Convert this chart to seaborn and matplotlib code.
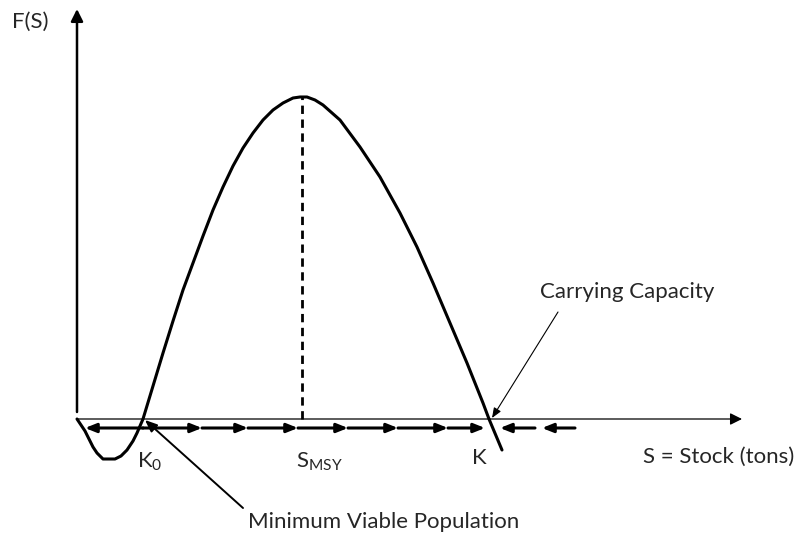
import matplotlib
matplotlib.use("Agg")
import matplotlib.pyplot as plt
import seaborn as sns
import pandas as pd

# growth curve F(S) (arbitrary units)
stock = [0, 4, 8, 12, 16, 20, 26, 38, 44, 50, 56, 60, 66,
         76, 86, 96, 106, 116, 126, 136, 146, 156, 166, 176, 186, 196, 206,
         216, 223, 230, 238, 246, 263, 283, 303, 323, 340, 356, 373, 390,
         406, 412, 425]
growth = [0, -6, -12, -20, -28, -34, -40, -40, -37, -31, -22, -14, 0,
          33, 66, 98, 129, 156, 183, 209, 232, 253, 271, 286, 299, 309, 316,
          321, 322, 322, 319, 314, 299, 272, 242, 206, 172, 136, 96, 56,
          16, 0, -31]

k0 = 66
s_msy = 223
k = 412
f_max = 322

# direction of stock change along the axis
right_arrows = [(66, 125), (125, 171), (171, 221), (221, 271), (271, 321),
                (321, 371), (371, 408)]
left_arrows = [(66, 8), (458, 423), (498, 465)]

df = pd.DataFrame({"stock": stock, "growth": growth})

sns.set_theme(style="white")
plt.rcParams["font.family"] = ["Lato", "DejaVu Sans"]
plt.rcParams["mathtext.fontset"] = "custom"
plt.rcParams["mathtext.rm"] = "Lato"

fig = plt.figure(figsize=(8.02, 5.39), dpi=100)
ax = fig.add_axes([0, 0, 1, 1])
ax.set_xlim(-77, 725)
ax.set_ylim(-120, 419)
ax.axis("off")

sns.lineplot(data=df, x="stock", y="growth", sort=False, color="black",
             linewidth=2.2, ax=ax, solid_joinstyle="round")

# axes with arrows
ax.annotate("", xy=(0, 410), xytext=(0, 7),
            arrowprops=dict(arrowstyle="-|>,head_length=0.6,head_width=0.3",
                            color="black", lw=1.8, shrinkA=0, shrinkB=0))
ax.annotate("", xy=(665, 0), xytext=(0, 0),
            arrowprops=dict(arrowstyle="-|>,head_length=0.6,head_width=0.3",
                            color="black", lw=0.9, shrinkA=0, shrinkB=0))

# MSY dashed line
ax.plot([s_msy + 2, s_msy + 2], [0, f_max], color="black", lw=2,
        linestyle=(0, (3, 2)))

for a, b in right_arrows + left_arrows:
    ax.annotate("", xy=(b, -9), xytext=(a, -9),
                arrowprops=dict(arrowstyle="-|>,head_length=0.55,head_width=0.22",
                                color="black", lw=2.2, shrinkA=0, shrinkB=0))

# pointers
ax.annotate("", xy=(k0 + 2, -1), xytext=(166, -89),
            arrowprops=dict(arrowstyle="-|>,head_length=0.6,head_width=0.25",
                            color="black", lw=1.4, shrinkA=0, shrinkB=0))
ax.annotate("", xy=(k + 3, 1), xytext=(481, 107),
            arrowprops=dict(arrowstyle="-|>,head_length=0.5,head_width=0.2",
                            color="black", lw=0.8, shrinkA=0, shrinkB=0))

fs = 16
ax.text(-65, 397, "F(S)", fontsize=fs, va="center", ha="left")
ax.text(463, 127, "Carrying Capacity", fontsize=fs, va="center", ha="left")
ax.text(k - 17, -39, "K", fontsize=fs, va="center", ha="left")
ax.text(k0 - 6, -43, r"K$_{\mathregular{0}}$", fontsize=fs, va="center", ha="left")
ax.text(s_msy - 4, -43, r"S$_{\mathregular{MSY}}$", fontsize=fs, va="center", ha="left")
ax.text(566, -38, "S = Stock (tons)", fontsize=fs, va="center", ha="left")
ax.text(171, -103, "Minimum Viable Population", fontsize=fs, va="center", ha="left")

fig.savefig("out.png", dpi=100, facecolor="white")
